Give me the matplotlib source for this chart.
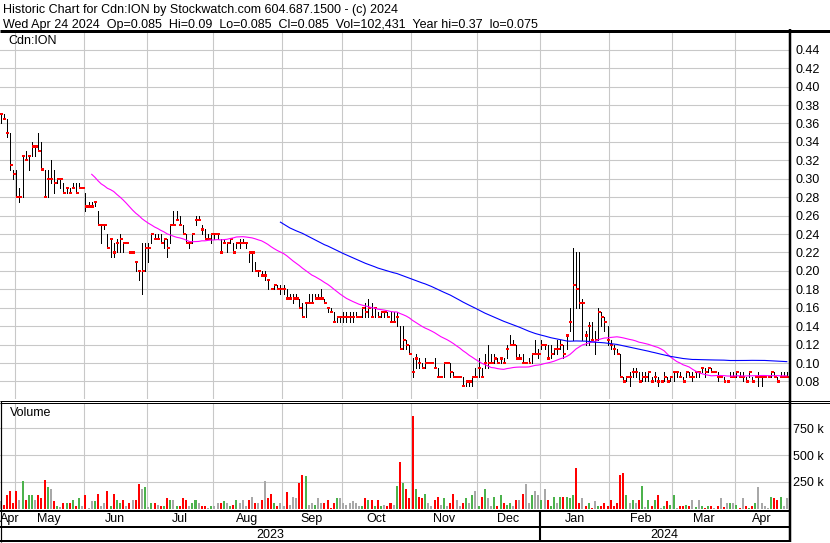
import numpy as np
import pandas as pd
import matplotlib
matplotlib.use('Agg')
import matplotlib.pyplot as plt
from matplotlib.lines import Line2D

plt.rcParams['font.family'] = ['Liberation Sans', 'DejaVu Sans']

# %%
# trading days per month shown on the chart (Apr 2023 .. Apr 2024)
month_labels = ['Apr', 'May', 'Jun', 'Jul', 'Aug', 'Sep', 'Oct', 'Nov', 'Dec',
                'Jan', 'Feb', 'Mar', 'Apr']
month_bars = [5, 22, 20, 21, 22, 19, 22, 21, 20, 22, 20, 20, 17]
year_labels = ['2023', '2024']
year_months = [9, 4]

close = [
    .37, .365, .35, .315, .305,
    .28, .28, .325, .32, .325, .335, .335, .33, .31, .28, .30, .30, .295, .30, .30, .285, .29, .285, .29, .285, .29, .29,
    .27, .27, .27, .275, .25, .25, .25, .225, .235, .22, .23, .235, .23, .23, .22, .22, .21, .20, .20, .225,
    .225, .24, .235, .235, .23, .235, .225, .25, .25, .255, .25, .24, .23, .23, .24, .255, .255, .245, .235, .235, .24,
    .24, .24, .22, .23, .23, .235, .22, .23, .23, .23, .23, .22, .22, .20, .20, .195, .195, .19, .18, .185, .18, .18,
    .18, .17, .17, .17, .17, .16, .15, .165, .165, .165, .17, .17, .17, .165, .16, .155, .145, .15, .15,
    .15, .15, .15, .15, .15, .15, .16, .155, .16, .15, .16, .15, .155, .155, .15, .145, .145, .15, .115, .125, .12, .11,
    .09, .105, .10, .095, .10, .10, .10, .095, .085, .085, .10, .10, .09, .085, .085, .085, .075, .08, .08, .085, .085,
    .095, .085, .10, .10, .10, .105, .10, .105, .10, .115, .12, .12, .105, .105, .10, .10, .10, .11, .11, .11,
    .12, .12, .105, .11, .115, .115, .12, .11, .13, .145, .185, .18, .165, .165, .13, .14, .125, .125, .155, .15, .145, .125,
    .12, .115, .11, .085, .08, .085, .085, .09, .09, .08, .085, .085, .09, .08, .085, .08, .08, .085, .08, .085,
    .09, .09, .085, .08, .09, .085, .085, .09, .09, .095, .09, .095, .09, .09, .085, .085, .08, .08, .085, .085,
    .09, .085, .085, .08, .09, .08, .085, .085, .085, .085, .085, .09, .085, .08, .085, .085, .085,
]
high = [
    .37, .37, .365, .35, .31,
    .31, .29, .325, .33, .325, .34, .335, .35, .34, .31, .31, .32, .31, .30, .30, .295, .29, .29, .295, .295, .295, .29,
    .285, .275, .275, .275, .265, .25, .25, .24, .235, .23, .235, .24, .23, .23, .22, .22, .21, .20, .23, .23,
    .23, .24, .24, .24, .24, .235, .235, .25, .265, .265, .26, .25, .24, .23, .24, .26, .26, .25, .245, .24, .24,
    .24, .24, .235, .235, .23, .235, .23, .23, .235, .235, .23, .22, .22, .21, .20, .20, .20, .19, .18, .185, .185, .185,
    .185, .18, .175, .175, .175, .17, .165, .165, .175, .175, .175, .175, .18, .17, .16, .16, .155, .15, .15,
    .155, .155, .155, .155, .155, .15, .16, .165, .17, .165, .16, .155, .155, .155, .155, .155, .155, .155, .14, .14, .125, .12,
    .105, .11, .105, .10, .105, .10, .10, .105, .095, .085, .10, .10, .10, .09, .085, .085, .085, .08, .08, .085, .095,
    .105, .095, .11, .12, .11, .11, .105, .105, .105, .12, .13, .125, .12, .11, .11, .10, .105, .11, .125, .115,
    .125, .12, .12, .12, .115, .125, .125, .12, .13, .16, .225, .22, .22, .17, .135, .145, .145, .135, .16, .155, .15, .14,
    .125, .12, .115, .11, .085, .085, .09, .095, .095, .09, .09, .09, .09, .085, .09, .085, .08, .09, .085, .085,
    .09, .09, .09, .085, .09, .09, .09, .09, .09, .095, .095, .095, .095, .09, .09, .085, .085, .08, .09, .09,
    .09, .09, .09, .085, .09, .085, .085, .09, .085, .085, .085, .09, .09, .085, .09, .09, .09,
]
low = [
    .36, .365, .345, .31, .30,
    .28, .275, .28, .32, .31, .325, .325, .33, .31, .28, .28, .295, .285, .295, .29, .285, .285, .285, .29, .285, .29, .29,
    .265, .27, .27, .27, .25, .23, .245, .225, .215, .215, .22, .22, .22, .23, .22, .22, .20, .19, .175, .20,
    .21, .23, .235, .235, .23, .225, .215, .23, .25, .255, .25, .24, .23, .225, .23, .25, .255, .24, .235, .235, .23,
    .235, .235, .22, .23, .22, .23, .22, .225, .225, .23, .225, .21, .20, .20, .195, .195, .19, .18, .18, .18, .18, .175,
    .175, .17, .17, .165, .17, .16, .15, .15, .165, .165, .17, .17, .17, .165, .155, .155, .145, .145, .145,
    .145, .145, .145, .145, .15, .15, .15, .15, .15, .15, .15, .15, .15, .15, .15, .145, .145, .14, .115, .115, .115, .11,
    .085, .095, .095, .095, .095, .10, .10, .095, .085, .085, .085, .10, .085, .085, .085, .085, .075, .075, .075, .075, .085,
    .085, .085, .095, .095, .10, .10, .10, .10, .10, .105, .12, .12, .105, .105, .10, .10, .10, .10, .11, .105,
    .115, .115, .105, .105, .11, .11, .115, .105, .115, .135, .125, .16, .16, .125, .12, .12, .125, .11, .125, .14, .135, .12,
    .115, .11, .11, .085, .08, .08, .075, .085, .085, .08, .08, .08, .08, .08, .08, .075, .08, .08, .08, .08,
    .08, .085, .085, .08, .085, .085, .08, .085, .085, .09, .085, .09, .09, .09, .08, .085, .08, .08, .085, .085,
    .085, .085, .08, .08, .085, .08, .085, .075, .075, .085, .085, .085, .085, .08, .085, .085, .085,
]
# volume in thousands of shares
volume = [
    69, 37, 131, 160, 56,
    160, 84, 253, 84, 131, 131, 75, 131, 103, 271, 206, 178, 66, 28, 15, 56, 56, 47, 75, 28, 94, 28,
    131, 9, 66, 66, 140, 28, 47, 168, 19, 140, 84, 56, 75, 19, 56, 84, 75, 234, 178, 206,
    10, 47, 56, 37, 19, 19, 103, 75, 84, 28, 28, 103, 75, 28, 56, 75, 47, 28, 19, 9, 19,
    28, 56, 56, 66, 47, 19, 37, 84, 47, 75, 28, 84, 112, 47, 47, 75, 253, 94, 140, 47, 20, 47,
    20, 150, 37, 112, 103, 243, 318, 300, 37, 56, 37, 94, 47, 47, 84, 9, 56, 103, 103,
    47, 37, 56, 66, 47, 28, 20, 94, 75, 84, 28, 84, 19, 37, 19, 47, 37, 215, 440, 243, 187, 103,
    870, 187, 112, 103, 140, 56, 19, 75, 112, 37, 94, 28, 56, 140, 75, 19, 47, 103, 56, 122, 160,
    28, 112, 187, 94, 28, 112, 28, 131, 47, 37, 56, 28, 75, 84, 140, 225, 47, 122, 160, 122,
    75, 178, 75, 19, 112, 47, 112, 112, 112, 103, 131, 375, 47, 103, 28, 47, 9, 66, 19, 19, 47, 19,
    75, 19, 47, 318, 337, 122, 47, 75, 47, 84, 215, 10, 84, 19, 75, 122, 9, 28, 66, 37,
    131, 9, 19, 19, 37, 28, 84, 10, 84, 28, 9, 28, 19, 9, 28, 103, 10, 47, 47, 47,
    37, 9, 103, 28, 9, 19, 47, 200, 47, 19, 9, 112, 94, 75, 112, 19, 103,
]

title1 = 'Historic Chart for Cdn:ION by Stockwatch.com 604.687.1500 - (c) 2024'
title2 = ('Wed Apr 24 2024  Op=0.085  Hi=0.09  Lo=0.085  Cl=0.085  '
          'Vol=102,431  Year hi=0.37  lo=0.075')

# %%
df = pd.DataFrame({'close': close, 'high': high, 'low': low, 'vol': volume})
df['ma30'] = df['close'].rolling(30).mean()
df['ma90'] = df['close'].rolling(90).mean()
chg = df['close'].diff().fillna(0)
df['vcol'] = np.where(chg > 1e-9, '#4cb24c', np.where(chg < -1e-9, '#ff0000', '#a8a8a8'))
idx = np.arange(len(df))

bounds = np.cumsum(month_bars)[:-1] - 0.5
edges = np.concatenate([[-0.16], bounds, [250.7]])
centers = (edges[:-1] + edges[1:]) / 2
year_bound = bounds[year_months[0] - 1]

# %%
W, H = 830, 543
fig = plt.figure(figsize=(W / 100, H / 100), dpi=100)
gridc = '#c8c8c8'
fs = 9
px = 0.72  # one pixel in points


def box(x0, y0, x1, y1):
    return [x0 / W, 1 - y1 / H, (x1 - x0) / W, (y1 - y0) / H]


def hline(y, x0, x1, lw):
    fig.add_artist(Line2D([x0 / W, x1 / W], [1 - y / H, 1 - y / H], color='k',
                          lw=lw * px, transform=fig.transFigure, solid_capstyle='butt'))


def vline(x, y0, y1, lw):
    fig.add_artist(Line2D([x / W, x / W], [1 - y0 / H, 1 - y1 / H], color='k',
                          lw=lw * px, transform=fig.transFigure, solid_capstyle='butt'))


xlim = (-0.16, 250.7)
ylim = (0.061, 0.4593)

# price panel
ax = fig.add_axes(box(0, 32, 789, 399))
ax.set_xlim(xlim)
ax.set_ylim(ylim)
price_ticks = np.arange(8, 45, 2) / 100
for p in price_ticks:
    ax.axhline(p, color=gridc, lw=1.1 * px, zorder=0)
for b in bounds:
    ax.axvline(b, color=gridc, lw=1.1 * px, zorder=0)
ax.vlines(idx, df['low'], df['high'], color='k', lw=px, zorder=2, antialiased=False)
# close ticks: small red blocks about 3 x 2 pixels
tick_h = 2.2 * (ylim[1] - ylim[0]) / 367
ax.bar(idx + 0.35, tick_h, bottom=df['close'] - tick_h / 2, width=0.95,
       color='#ff0000', zorder=3, antialiased=False)
ax.plot(idx, df['ma30'], color='#ff00ff', lw=0.8, zorder=4)
ax.plot(idx, df['ma90'], color='#0000ff', lw=0.8, zorder=4)
ax.yaxis.tick_right()
ax.set_yticks(price_ticks)
ax.set_yticklabels(['%.2f' % p for p in price_ticks])
ax.tick_params(axis='y', length=0, pad=4.5, labelsize=fs)
ax.set_xticks([])
for s in ax.spines.values():
    s.set_visible(False)
ax.text(8 / 789, 1 - 9 / 367, 'Cdn:ION', transform=ax.transAxes, fontsize=fs, va='center')

# volume panel
axv = fig.add_axes(box(0, 403, 789, 508.5))
axv.set_xlim(xlim)
axv.set_ylim(0, 988)
for v in [250, 500, 750]:
    axv.axhline(v, color=gridc, lw=1.1 * px, zorder=0)
for b in bounds:
    axv.axvline(b, color=gridc, lw=1.1 * px, zorder=0)
axv.bar(idx, df['vol'], width=0.64, color=df['vcol'], zorder=2, antialiased=False)
axv.yaxis.tick_right()
axv.set_yticks([250, 500, 750])
axv.set_yticklabels(['250 k', '500 k', '750 k'])
axv.tick_params(axis='y', length=0, pad=3, labelsize=fs)
axv.set_xticks([])
for s in axv.spines.values():
    s.set_visible(False)
axv.text(10 / 789, 1 - 10 / 105.5, 'Volume', transform=axv.transAxes, fontsize=fs, va='center')

# date rows
axd = fig.add_axes(box(0, 511, 789, 541))
axd.set_xlim(xlim)
axd.set_ylim(0, 1)
axd.axis('off')
for k, (c, m) in enumerate(zip(centers, month_labels)):
    if k == 0:
        axd.text(xlim[0] + 0.1, 0.73, m, ha='left', va='center', fontsize=fs)
    else:
        axd.text(c, 0.73, m, ha='center', va='center', fontsize=fs)
yc = [(xlim[0] + year_bound) / 2, (year_bound + xlim[1]) / 2]
for c, y in zip(yc, year_labels):
    axd.text(c, 0.2, y, ha='center', va='center', fontsize=fs)
axd.axvline(year_bound, color='k', lw=1.5)

# frame
hline(30.7, 0, 830, 3)
hline(400.5, 0, 830, 1)
hline(402.5, 0, 830, 1)
hline(510.5, 0, 790, 2)
hline(527, 0, 790, 2)
hline(541.2, 0, 790, 2)
vline(789.5, 29, 542, 2.5)
vline(0.6, 401, 542, 1.2)

fig.text(3 / W, 1 - 12.7 / H, title1, fontsize=fs, va='baseline')
fig.text(3 / W, 1 - 28.3 / H, title2, fontsize=fs, va='baseline')

fig.savefig('out.png', dpi=100)
plt.close()
